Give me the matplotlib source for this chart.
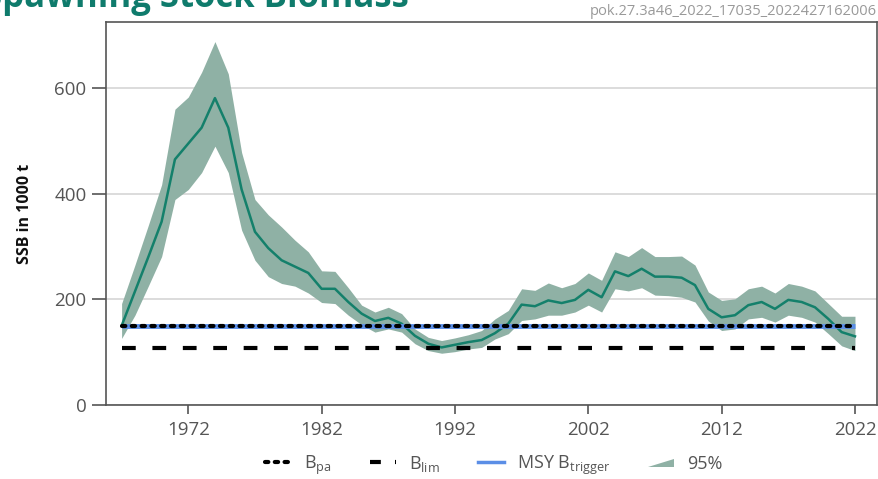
import matplotlib
matplotlib.use("Agg")
import matplotlib.pyplot as plt
from matplotlib.lines import Line2D
from matplotlib.patches import Patch, Polygon
from matplotlib.legend_handler import HandlerPatch
import numpy as np

years = list(range(1967, 2023))
ssb = [150, 215, 280, 347, 465, 495, 525, 581, 525, 408, 328, 297, 274, 262,
       250, 220, 220, 195, 173, 159, 165, 154, 131, 116, 109, 114, 119, 123,
       136, 154, 190, 187, 198, 193, 199, 218, 204, 253, 244, 258, 243, 243,
       241, 227, 182, 166, 170, 189, 195, 182, 199, 195, 185, 163, 138, 130]
ssb_high = [192, 265, 340, 417, 560, 583, 630, 688, 627, 478, 389, 360, 337, 312,
            290, 254, 253, 222, 189, 176, 185, 173, 144, 128, 122, 127, 133, 141,
            163, 179, 220, 217, 231, 222, 230, 250, 236, 290, 281, 298, 281, 281,
            282, 265, 214, 198, 201, 220, 225, 212, 230, 225, 216, 192, 168, 168]
ssb_low = [126, 170, 225, 281, 389, 408, 440, 490, 440, 331, 274, 243, 230, 225,
           212, 194, 192, 170, 152, 138, 144, 138, 116, 103, 98, 101, 106, 109,
           125, 135, 160, 163, 170, 170, 176, 189, 176, 220, 216, 222, 208, 207,
           204, 195, 159, 141, 144, 163, 166, 157, 170, 166, 157, 135, 112, 103]
b_pa = 150
b_lim = 107
msy_btrigger = 150
xticks = [1972, 1982, 1992, 2002, 2012, 2022]
yticks = [0, 200, 400, 600]

line_col = "#14806b"
band_col = "#8fb1a5"
grey_txt = "#555555"

plt.rcParams['font.family'] = ['Open Sans', 'DejaVu Sans']

fig = plt.figure(figsize=(8.79, 4.79), dpi=100)
ax = fig.add_axes([0.1206, 0.1545, 0.8771, 0.7995])

ax.fill_between(years, ssb_low, ssb_high, color=band_col, lw=0, zorder=2)
ax.plot(years, ssb, color=line_col, lw=1.8, zorder=3)
x0, x1 = years[0], years[-1]
ax.plot([x0, x1], [msy_btrigger, msy_btrigger], color="#5b8ee6", lw=3.5, zorder=4,
        solid_capstyle='butt')
ax.plot([x0, x1], [b_pa, b_pa], color="black", lw=3, ls=(0, (0.8, 1.55)),
        dash_capstyle='round', zorder=5)
ax.plot([x0, x1], [b_lim, b_lim], color="black", lw=3, ls=(0, (3.3, 4.0)), zorder=5)

ax.set_xlim(1965.83, 2023.65)
ax.set_ylim(0, 725)
ax.set_xticks(xticks)
ax.set_yticks(yticks)
ax.grid(axis='y', color="#d5d5d5", lw=1.2, zorder=0)
ax.set_axisbelow(True)
for s in ax.spines.values():
    s.set_color("#555555")
    s.set_linewidth(1.2)
ax.tick_params(axis='both', colors="#555555", labelcolor=grey_txt, labelsize=13.5,
               width=1.2)
ax.tick_params(axis='x', length=6.5, pad=5)
ax.tick_params(axis='y', length=10, pad=4)
ax.set_ylabel("SSB in 1000 t", fontsize=11.5, fontweight='bold', color="#111111",
              labelpad=15)


class HandlerWedge(HandlerPatch):
    def create_artists(self, legend, orig_handle, xdescent, ydescent, width, height,
                       fontsize, trans):
        pts = [[-xdescent, -ydescent + 0.15 * height],
               [-xdescent + width, -ydescent + 0.15 * height],
               [-xdescent + width, -ydescent + 0.8 * height]]
        p = Polygon(pts, closed=True, facecolor=band_col, edgecolor='none',
                    transform=trans)
        return [p]


handles = [
    Line2D([], [], color='black', lw=3, ls=(0, (0.8, 1.55)), dash_capstyle='round'),
    Line2D([], [], color='black', lw=3, ls=(0, (2.6, 3.4))),
    Line2D([], [], color="#5b8ee6", lw=2.5),
    Patch(facecolor=band_col),
]
labels = [r"B$_{\mathregular{pa}}$", r"B$_{\mathregular{lim}}$",
          r"MSY B$_{\mathregular{trigger}}$", "95%"]
leg = fig.legend(handles, labels, loc='center', bbox_to_anchor=(0.562, 0.029),
                 ncol=4, frameon=False, fontsize=13, handlelength=1.45,
                 columnspacing=2.1, handletextpad=0.72,
                 handler_map={Patch: HandlerWedge()})
for t in leg.get_texts():
    t.set_color(grey_txt)

fig.text(-0.0195, 0.9854, "Spawning Stock Biomass", fontsize=25, fontweight='bold',
         color="#0f7b6c", ha='left', va='baseline')
fig.text(0.9977, 0.975, "pok.27.3a46_2022_17035_2022427162006", fontsize=10.5,
         color="#999999", ha='right', va='center')

fig.savefig("out.png", dpi=100)
